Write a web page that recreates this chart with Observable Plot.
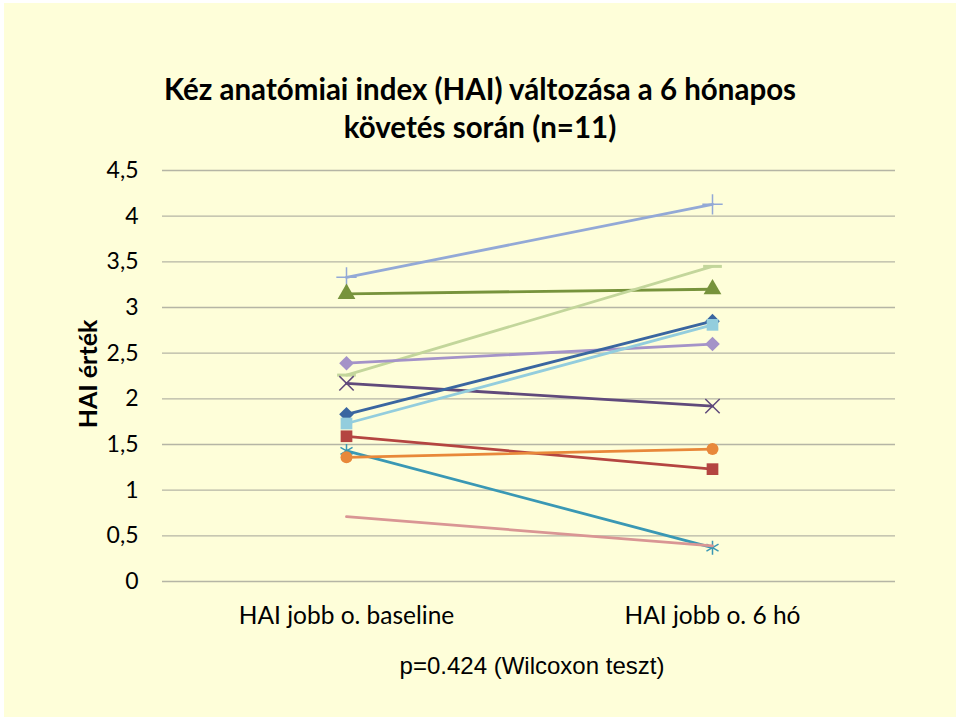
<!DOCTYPE html>
<html>
<head>
<meta charset="utf-8">
<script src="https://cdn.jsdelivr.net/npm/d3@7"></script>
<script src="https://cdn.jsdelivr.net/npm/@observablehq/plot@0.6"></script>
<style>
  html, body { margin: 0; padding: 0; background: #ffffff; }
  #wrap { position: relative; width: 960px; height: 717px; overflow: hidden; }
  #bg { position: absolute; left: 4px; top: 3px; width: 952px; height: 714px; background: #FEFED9; }
  #chart { position: absolute; left: 0; top: 0; }
  .title { position: absolute; left: 0; width: 960px; text-align: center; font-family: Lato, "Open Sans", sans-serif; font-weight: bold; font-size: 29.5px; color: #000; line-height: 1; }
  #ylab { position: absolute; left: 87px; top: 374px; transform: translate(-50%, -50%) rotate(-90deg); font-family: Lato, "Open Sans", sans-serif; font-weight: bold; font-size: 25px; white-space: nowrap; }
  #cap { position: absolute; left: 532px; top: 666px; transform: translate(-50%, -50%); font-family: "Liberation Sans", Arial, sans-serif; font-size: 24px; white-space: nowrap; }
</style>
</head>
<body>
<div id="wrap">
  <div id="bg"></div>
  <div id="chart"></div>
  <div class="title" style="top:74px">Kéz anatómiai index (HAI) változása a 6 hónapos</div>
  <div class="title" style="top:112px">követés során (n=11)</div>
  <div id="ylab">HAI érték</div>
  <div id="cap">p=0.424 (Wilcoxon teszt)</div>
</div>
<script>
// ---- data ----
const categories = ["HAI jobb o. baseline", "HAI jobb o. 6 hó"];
const yTicks = [0, 0.5, 1, 1.5, 2, 2.5, 3, 3.5, 4, 4.5];
const baseline = [3.33, 3.15, 2.26, 2.39, 2.17, 1.83, 1.73, 1.59, 1.43, 1.36, 0.71];
const sixMonth = [4.13, 3.20, 3.45, 2.60, 1.92, 2.85, 2.81, 1.23, 0.37, 1.45, 0.39];
// ---- styles ----
const colors = ["#93A9D6", "#77933C", "#C3D69B", "#A493C8", "#604A7B", "#3A66A0", "#93CDDD", "#B44541", "#3A98B4", "#E8883A", "#D99694"];
const dashSymbol = { draw(ctx, size) { const w = Math.sqrt(size) * 0.8; ctx.moveTo(-w, 0); ctx.lineTo(w, 0); } };
const symbols = ["plus", "triangle", dashSymbol, "diamond2", "times", "diamond2", "square", "square", "asterisk", "circle", null];
const filled = [false, true, false, true, false, true, true, true, false, true, false];

const marks = [];
marks.push(Plot.ruleY(yTicks, { stroke: "#B5B5A5", strokeWidth: 1.3 }));
marks.push(Plot.ruleX([0], { x: () => 0, stroke: "#B5B5A5", strokeWidth: 1.3, frameAnchor: "left" }));

baseline.forEach((b, i) => {
  const rows = [{ cat: categories[0], v: b }, { cat: categories[1], v: sixMonth[i] }];
  marks.push(Plot.line(rows, { x: "cat", y: "v", stroke: colors[i], strokeWidth: 2.8 }));
  if (symbols[i]) {
    marks.push(Plot.dot(rows, {
      x: "cat", y: "v", symbol: symbols[i],
      r: symbols[i] === "circle" ? 6 : 6.6,
      fill: filled[i] ? colors[i] : "none",
      stroke: colors[i],
      strokeWidth: filled[i] ? 0 : (symbols[i] === dashSymbol ? 3 : 1.5)
    }));
  }
});

const fmt = d => String(d).replace(".", ",");
const chart = Plot.plot({
  width: 960,
  height: 717,
  marginLeft: 162,
  marginRight: 65,
  marginTop: 170,
  marginBottom: 136,
  style: { background: "transparent", fontFamily: "Lato, 'Open Sans', sans-serif", color: "#000" },
  x: { type: "point", domain: categories, padding: 0.5 },
  y: { domain: [0, 4.5] },
  marks: [
    ...marks,
    Plot.axisY({ ticks: yTicks, tickSize: 0, tickPadding: 24, fontSize: 23, tickFormat: fmt, label: null }),
    Plot.axisX({ tickSize: 0, tickPadding: 25, fontSize: 24.5, label: null })
  ]
});
document.getElementById("chart").appendChild(chart);
</script>
</body>
</html>
